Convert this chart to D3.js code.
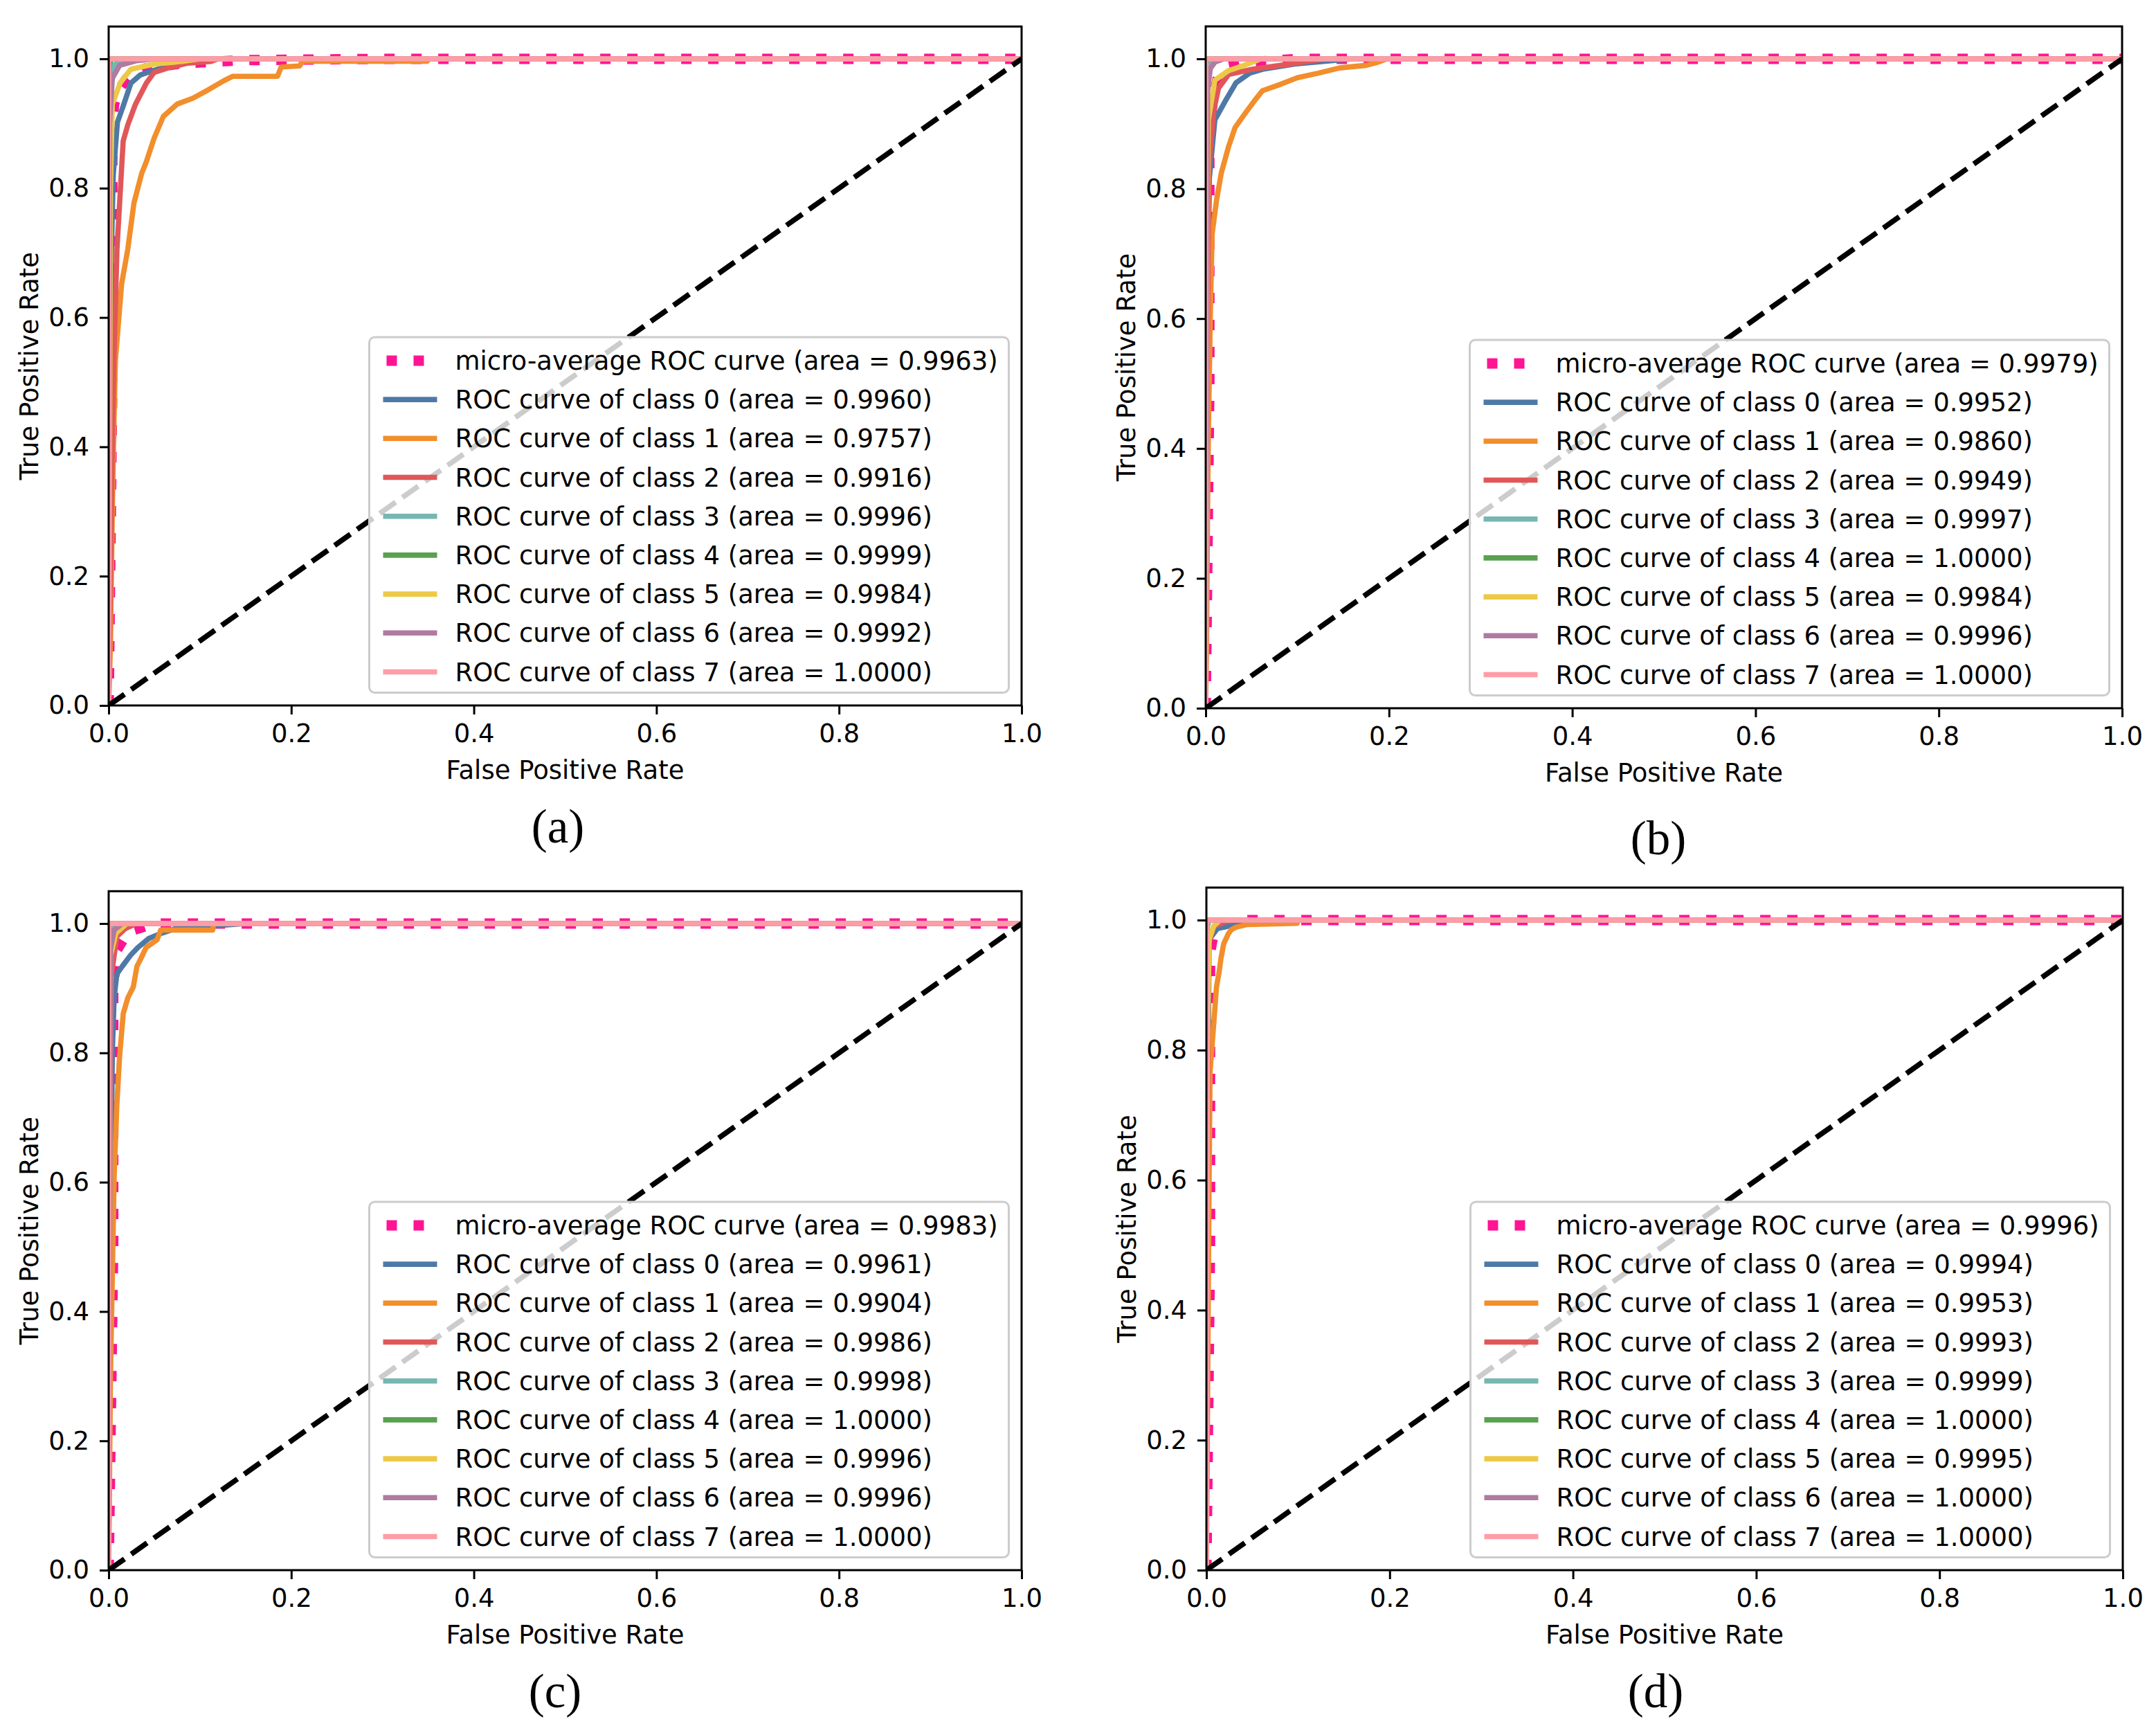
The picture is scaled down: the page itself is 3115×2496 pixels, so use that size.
<!DOCTYPE html>
<html>
<head>
<meta charset="utf-8">
<script src="https://d3js.org/d3.v7.min.js"></script>
<style>
  body { margin: 0; background: #fff; }
</style>
</head>
<body>
<script>
// tick values shared by every panel
const fprTicks = [0, 0.2, 0.4, 0.6, 0.8, 1.0];
const tprTicks = [0, 0.2, 0.4, 0.6, 0.8, 1.0];

const curveNames = ["micro-average ROC curve", "ROC curve of class 0", "ROC curve of class 1",
  "ROC curve of class 2", "ROC curve of class 3", "ROC curve of class 4",
  "ROC curve of class 5", "ROC curve of class 6", "ROC curve of class 7"];

// areas shown in the legends (micro first, then class 0..7)
const aucA = [0.9963, 0.9960, 0.9757, 0.9916, 0.9996, 0.9999, 0.9984, 0.9992, 1.0000];
const aucB = [0.9979, 0.9952, 0.9860, 0.9949, 0.9997, 1.0000, 0.9984, 0.9996, 1.0000];
const aucC = [0.9983, 0.9961, 0.9904, 0.9986, 0.9998, 1.0000, 0.9996, 0.9996, 1.0000];
const aucD = [0.9996, 0.9994, 0.9953, 0.9993, 0.9999, 1.0000, 0.9995, 1.0000, 1.0000];

// ROC points [fpr, tpr]
const rocA = [
  [[0,0],[0.004,0.5],[0.004,0.9],[0.006,0.93],[0.01,0.95],[0.02,0.97],[0.04,0.985],[0.08,0.993],[0.15,0.998],[0.3,1],[1,1]],
  [[0,0],[0.001,0.3],[0.003,0.7],[0.005,0.82],[0.0074,0.863],[0.0096,0.902],[0.0159,0.927],[0.0193,0.941],[0.0243,0.9625],[0.0345,0.975],[0.0446,0.98],[0.065,0.989],[0.089,0.995],[0.1,1],[1,1]],
  [[0,0],[0.002,0.1],[0.004,0.3],[0.006,0.45],[0.0074,0.534],[0.0142,0.652],[0.021,0.706],[0.0277,0.777],[0.0362,0.823],[0.0413,0.841],[0.0497,0.877],[0.0599,0.911],[0.075,0.93],[0.092,0.939],[0.109,0.952],[0.126,0.966],[0.136,0.973],[0.185,0.973],[0.189,0.9875],[0.209,0.989],[0.2125,0.9964],[0.349,0.9964],[0.349,1],[1,1]],
  [[0,0],[0.002,0.2],[0.004,0.4],[0.0057,0.534],[0.0091,0.706],[0.0159,0.873],[0.021,0.898],[0.0294,0.93],[0.0413,0.9625],[0.0497,0.979],[0.065,0.986],[0.085,0.993],[0.112,0.996],[0.12,1],[1,1]],
  [[0,0],[0.001,0.97],[0.006,0.99],[0.015,1],[1,1]],
  [[0,0],[0.0005,0.99],[0.003,1],[1,1]],
  [[0,0],[0.002,0.8],[0.004,0.93],[0.0125,0.9625],[0.0243,0.984],[0.05,0.992],[0.08,0.996],[0.1,1],[1,1]],
  [[0,0],[0.001,0.9],[0.004,0.97],[0.012,0.99],[0.03,0.997],[0.05,1],[1,1]],
  [[0,0],[0,1],[1,1]]
];
const rocB = [
  [[0,0],[0.004,0.5],[0.004,0.9],[0.01,0.951],[0.014,0.976],[0.025,0.988],[0.05,0.995],[0.1,1],[1,1]],
  [[0,0],[0.001,0.3],[0.003,0.7],[0.004,0.816],[0.01,0.906],[0.023,0.939],[0.033,0.963],[0.048,0.978],[0.062,0.984],[0.097,0.992],[0.16,1],[1,1]],
  [[0,0],[0.001,0.1],[0.002,0.3],[0.003,0.43],[0.005,0.6],[0.007,0.73],[0.012,0.784],[0.017,0.824],[0.025,0.865],[0.032,0.894],[0.042,0.914],[0.053,0.935],[0.062,0.951],[0.082,0.961],[0.1,0.971],[0.123,0.978],[0.146,0.986],[0.175,0.99],[0.186,0.994],[0.198,1],[1,1]],
  [[0,0],[0.001,0.4],[0.003,0.75],[0.004,0.84],[0.009,0.922],[0.014,0.955],[0.025,0.976],[0.051,0.984],[0.082,0.99],[0.13,1],[1,1]],
  [[0,0],[0.001,0.97],[0.005,0.995],[0.01,1],[1,1]],
  [[0,0],[0,0.99],[0.001,1],[1,1]],
  [[0,0],[0.002,0.8],[0.003,0.906],[0.01,0.967],[0.025,0.982],[0.042,0.99],[0.06,1],[1,1]],
  [[0,0],[0.002,0.95],[0.005,0.985],[0.01,0.995],[0.02,1],[1,1]],
  [[0,0],[0,1],[1,1]]
];
const rocC = [
  [[0,0],[0.005,0.5],[0.005,0.9],[0.009,0.959],[0.018,0.98],[0.027,0.99],[0.05,1],[1,1]],
  [[0,0],[0.002,0.5],[0.004,0.8],[0.006,0.885],[0.009,0.922],[0.015,0.934],[0.024,0.951],[0.032,0.963],[0.044,0.977],[0.056,0.984],[0.073,0.992],[0.15,1],[1,1]],
  [[0,0],[0.001,0.15],[0.002,0.3],[0.0035,0.415],[0.006,0.607],[0.009,0.721],[0.012,0.795],[0.016,0.861],[0.021,0.885],[0.027,0.902],[0.031,0.934],[0.035,0.945],[0.041,0.963],[0.053,0.975],[0.057,0.99],[0.114,0.99],[0.115,1],[1,1]],
  [[0,0],[0.001,0.5],[0.003,0.92],[0.009,0.98],[0.018,0.992],[0.03,1],[1,1]],
  [[0,0],[0.001,0.98],[0.005,1],[1,1]],
  [[0,0],[0,1],[1,1]],
  [[0,0],[0.002,0.95],[0.008,0.985],[0.02,1],[1,1]],
  [[0,0],[0.002,0.96],[0.006,0.99],[0.015,1],[1,1]],
  [[0,0],[0,1],[1,1]]
];
const rocD = [
  [[0,0],[0.004,0.5],[0.004,0.95],[0.008,0.98],[0.02,0.995],[0.04,1],[1,1]],
  [[0,0],[0.001,0.6],[0.003,0.97],[0.012,0.987],[0.032,0.993],[0.04,1],[1,1]],
  [[0,0],[0.001,0.2],[0.002,0.411],[0.003,0.602],[0.004,0.766],[0.008,0.84],[0.011,0.897],[0.014,0.921],[0.016,0.942],[0.019,0.964],[0.024,0.979],[0.027,0.985],[0.032,0.989],[0.044,0.993],[0.099,0.995],[0.1,1],[1,1]],
  [[0,0],[0.001,0.6],[0.002,0.96],[0.008,0.99],[0.02,0.997],[0.03,1],[1,1]],
  [[0,0],[0.001,0.99],[0.003,1],[1,1]],
  [[0,0],[0,1],[1,1]],
  [[0,0],[0.001,0.8],[0.003,0.97],[0.008,0.991],[0.015,1],[1,1]],
  [[0,0],[0,1],[1,1]],
  [[0,0],[0,1],[1,1]]
];

const colors = ["#ff1493", "#4e79a7", "#f28e2b", "#e15759", "#76b7b2",
                "#59a14f", "#edc948", "#b07aa1", "#ff9da7"];

// where each subplot sits on the page
const panels = [
  {roc: rocA, auc: aucA, tag: "(a)", L: 157,  R: 1476, y0: 1019, y1: 85,   tagX: 806,  tagY: 1217},
  {roc: rocB, auc: aucB, tag: "(b)", L: 1742, R: 3066, y0: 1023, y1: 85,   tagX: 2396, tagY: 1234},
  {roc: rocC, auc: aucC, tag: "(c)", L: 157,  R: 1476, y0: 2268, y1: 1334, tagX: 802,  tagY: 2466},
  {roc: rocD, auc: aucD, tag: "(d)", L: 1743, R: 3067, y0: 2268, y1: 1329, tagX: 2392, tagY: 2466}
];

const FONT = "'DejaVu Sans', sans-serif";
const FS = 37;

const svg = d3.select("body").append("svg")
    .attr("width", 3115)
    .attr("height", 2496)
    .style("display", "block");

svg.append("rect").attr("width", 3115).attr("height", 2496).attr("fill", "#fff");

panels.forEach(function(p, i) {
  const x = d3.scaleLinear().domain([0, 1]).range([p.L, p.R]);
  const span = p.y0 - p.y1;
  const y = d3.scaleLinear().domain([0, 1.05]).range([p.y0, p.y0 - 1.05 * span]);
  const top = y(1.05);

  const g = svg.append("g");

  g.append("clipPath").attr("id", "clip" + i)
    .append("rect")
    .attr("x", p.L).attr("y", top)
    .attr("width", p.R - p.L).attr("height", p.y0 - top);

  const plot = g.append("g").attr("clip-path", "url(#clip" + i + ")");
  const line = d3.line().x(d => x(d[0])).y(d => y(d[1]));

  p.roc.forEach(function(c, k) {
    plot.append("path")
      .attr("d", line(c))
      .attr("fill", "none")
      .attr("stroke", colors[k])
      .attr("stroke-width", k === 0 ? 15 : 7.6)
      .attr("stroke-dasharray", k === 0 ? "15,24" : null)
      .attr("stroke-linecap", k === 0 ? "butt" : "square")
      .attr("stroke-linejoin", "round");
  });

  // chance line
  plot.append("path")
    .attr("d", line([[0, 0], [1, 1]]))
    .attr("fill", "none")
    .attr("stroke", "#000")
    .attr("stroke-width", 7.6)
    .attr("stroke-dasharray", "28,12");

  // axes
  const xAxis = d3.axisBottom(x).tickValues(fprTicks).tickFormat(d3.format(".1f"))
      .tickSize(13).tickPadding(14).tickSizeOuter(0);
  const yAxis = d3.axisLeft(y).tickValues(tprTicks).tickFormat(d3.format(".1f"))
      .tickSize(13).tickPadding(15).tickSizeOuter(0);

  const gx = g.append("g").attr("transform", "translate(0," + p.y0 + ")").call(xAxis);
  const gy = g.append("g").attr("transform", "translate(" + p.L + ",0)").call(yAxis);
  [gx, gy].forEach(function(a) {
    a.attr("font-size", FS).attr("font-family", FONT);
    a.select(".domain").remove();
    a.selectAll(".tick line").attr("stroke", "#000").attr("stroke-width", 3);
    a.selectAll(".tick text").attr("fill", "#000");
  });

  // frame
  g.append("rect")
    .attr("x", p.L).attr("y", top)
    .attr("width", p.R - p.L).attr("height", p.y0 - top)
    .attr("fill", "none").attr("stroke", "#000").attr("stroke-width", 3);

  g.append("text")
    .attr("x", (p.L + p.R) / 2).attr("y", p.y0 + 106)
    .attr("text-anchor", "middle")
    .attr("font-family", FONT).attr("font-size", FS)
    .text("False Positive Rate");

  g.append("text")
    .attr("transform", "translate(" + (p.L - 102) + "," + ((p.y0 + top) / 2) + ") rotate(-90)")
    .attr("text-anchor", "middle")
    .attr("font-family", FONT).attr("font-size", FS)
    .text("True Positive Rate");

  // legend, lower right
  const boxRight = p.R - 18.5;
  const boxBottom = p.y0 - 18.5;
  const lastRow = boxBottom - 30;
  const pitch = 56.2;
  const rows = p.auc.map((d, k) => lastRow - (p.auc.length - 1 - k) * pitch);
  const boxTop = rows[0] - 34;
  const boxLeft = boxRight - 924;

  const lg = g.append("g");
  lg.append("rect")
    .attr("x", boxLeft).attr("y", boxTop)
    .attr("width", boxRight - boxLeft).attr("height", boxBottom - boxTop)
    .attr("rx", 8)
    .attr("fill", "#fff").attr("fill-opacity", 0.8)
    .attr("stroke", "#cccccc").attr("stroke-width", 3);

  p.auc.forEach(function(a, k) {
    lg.append("line")
      .attr("x1", boxLeft + (k === 0 ? 25 : 20)).attr("x2", boxLeft + (k === 0 ? 93 : 98))
      .attr("y1", rows[k]).attr("y2", rows[k])
      .attr("stroke", colors[k])
      .attr("stroke-width", k === 0 ? 15 : 7.6)
      .attr("stroke-dasharray", k === 0 ? "15,24" : null);
    lg.append("text")
      .attr("x", boxLeft + 124).attr("y", rows[k] + 13)
      .attr("font-family", FONT).attr("font-size", FS)
      .attr("fill", "#000")
      .text(curveNames[k] + " (area = " + a.toFixed(4) + ")");
  });

  svg.append("text")
    .attr("x", p.tagX).attr("y", p.tagY)
    .attr("text-anchor", "middle")
    .attr("font-family", "'Liberation Serif', 'Times New Roman', serif")
    .attr("font-size", 69)
    .text(p.tag);
});
</script>
</body>
</html>
